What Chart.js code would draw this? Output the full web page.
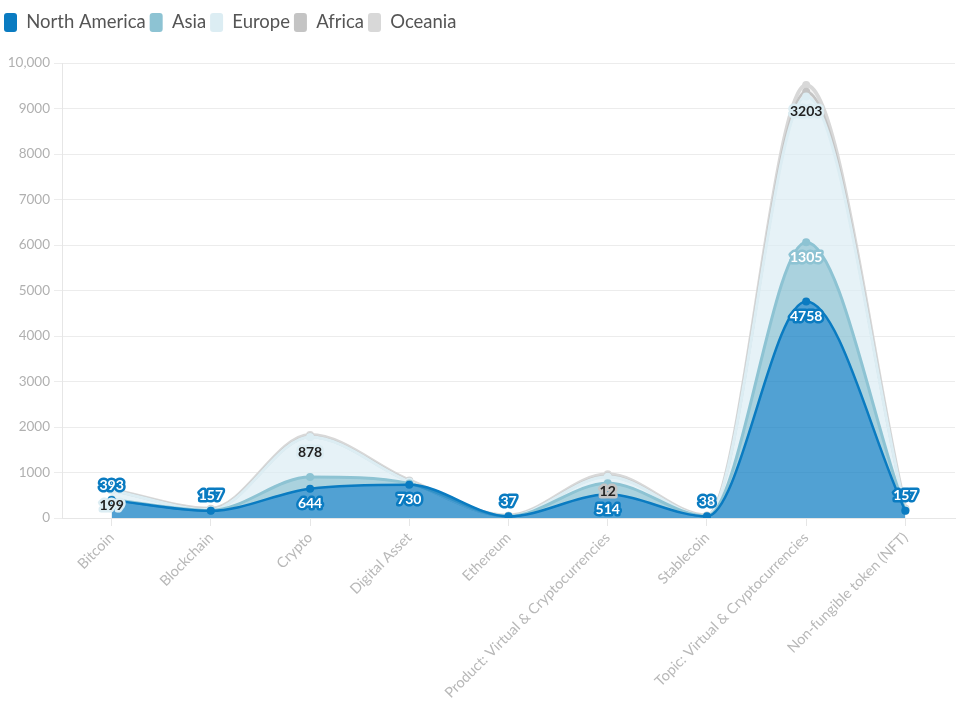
<!DOCTYPE html>
<html>
<head>
<meta charset="utf-8">
<script src="https://cdn.jsdelivr.net/npm/chart.js@4"></script>
<style>
	html, body { margin: 0; padding: 0; background: #fff; }
	#wrap { width: 959px; height: 702px; }
</style>
</head>
<body>
<div id="wrap"><canvas id="chart"></canvas></div>
<script>
const categories = [
	"Bitcoin",
	"Blockchain",
	"Crypto",
	"Digital Asset",
	"Ethereum",
	"Product: Virtual & Cryptocurrencies",
	"Stablecoin",
	"Topic: Virtual & Cryptocurrencies",
	"Non-fungible token (NFT)",
];

const northAmerica = [393, 157, 644, 730, 37, 514, 38, 4758, 157];
const asia = [15, 10, 256, 30, 3, 250, 3, 1305, 10];
const europe = [199, 15, 878, 40, 5, 144, 5, 3203, 20];
const africa = [5, 5, 10, 5, 2, 12, 2, 100, 5];
const oceania = [10, 15, 35, 20, 5, 40, 5, 150, 15];

const yTicks = [0, 1000, 2000, 3000, 4000, 5000, 6000, 7000, 8000, 9000, 10000];

// which values carry a visible label (category indexes), per series
const labelledNorthAmerica = [0, 1, 2, 3, 4, 5, 6, 7, 8];
const labelledAsia = [7];
const labelledEurope = [0, 2, 7];
const labelledAfrica = [5];
const labelledOceania = [];

const series = [
	{ label: "North America", data: northAmerica, line: "#0a7bc1", fill: "rgba(10, 123, 193, 0.71)", labelled: labelledNorthAmerica, text: "#fff", width: 2.5 },
	{ label: "Asia", data: asia, line: "#8dc3d3", fill: "rgba(141, 195, 211, 0.75)", labelled: labelledAsia, text: "#fff", width: 3 },
	{ label: "Europe", data: europe, line: "#dcedf3", fill: "rgba(220, 237, 243, 0.7)", labelled: labelledEurope, text: "#222", width: 3 },
	{ label: "Africa", data: africa, line: "#c4c4c4", fill: "rgba(196, 196, 196, 0.3)", labelled: labelledAfrica, text: "#222", width: 3 },
	{ label: "Oceania", data: oceania, line: "#d8d8d8", fill: "rgba(216, 216, 216, 0.3)", labelled: labelledOceania, text: "#222", width: 4 },
];

const valueLabels = {
	id: "valueLabels",
	afterDatasetsDraw(chart) {
		const ctx = chart.ctx;
		const bottom = chart.chartArea.bottom;
		ctx.save();
		ctx.font = "bold 14px Lato";
		ctx.textAlign = "center";
		ctx.textBaseline = "middle";
		ctx.lineJoin = "round";
		series.forEach((s, i) => {
			const meta = chart.getDatasetMeta(i);
			s.labelled.forEach((j) => {
				const pt = meta.data[j];
				let y = pt.y + 15;
				if (y + 8 > bottom) y = pt.y - 15;
				const text = String(s.data[j]);
				ctx.lineWidth = 5;
				ctx.strokeStyle = s.line;
				ctx.strokeText(text, pt.x, y);
				ctx.fillStyle = s.text;
				ctx.fillText(text, pt.x, y);
			});
		});
		ctx.restore();
	},
};

// extra room under the legend
const legendGap = {
	id: "legendGap",
	afterInit(chart) {
		const fit = chart.legend.fit;
		chart.legend.fit = function () {
			fit.bind(chart.legend)();
			this.height += 21;
		};
	},
};

const data = {
	labels: categories,
	datasets: series.map((s, i) => ({
		label: s.label,
		data: s.data,
		borderColor: s.line,
		backgroundColor: s.fill,
		borderWidth: s.width,
		fill: i === 0 ? "origin" : "-1",
		cubicInterpolationMode: "monotone",
		pointRadius: 4,
		pointBackgroundColor: s.line,
		pointBorderWidth: 0,
		pointHoverRadius: 4,
	})),
};

const options = {
	responsive: true,
	maintainAspectRatio: false,
	animation: false,
	layout: {
		padding: { top: 9, right: 0, left: 0, bottom: 0 },
	},
	plugins: {
		legend: {
			display: true,
			position: "top",
			align: "start",
			labels: {
				padding: 4,
				boxWidth: 13,
				boxHeight: 19,
				useBorderRadius: true,
				borderRadius: 3,
				color: "#555",
				font: { family: "Lato", size: 18.5 },
				generateLabels: (chart) =>
					chart.data.datasets.map((ds, i) => ({
						text: ds.label,
						fillStyle: [ "#0a7bc1", "#8dc3d3", "#dcedf3", "#c4c4c4", "#d8d8d8" ][i],
						strokeStyle: "rgba(0,0,0,0)",
						lineWidth: 0,
						borderRadius: 3,
						datasetIndex: i,
						fontColor: "#555",
					})),
			},
		},
		tooltip: { enabled: false },
	},
	scales: {
		x: {
			offset: true,
			grid: {
				drawOnChartArea: false,
				drawTicks: true,
				tickLength: 8,
				color: "#e6e6e6",
			},
			border: { color: "#e6e6e6" },
			ticks: {
				minRotation: 45,
				maxRotation: 45,
				autoSkip: false,
				color: "#b8b8b8",
				font: { family: "Lato", size: 14.5 },
			},
			afterFit: (scale) => {
				scale.height = 184;
			},
		},
		y: {
			stacked: true,
			min: 0,
			max: 10000,
			afterBuildTicks: (scale) => {
				scale.ticks = yTicks.map((v) => ({ value: v }));
			},
			grid: {
				color: "#ececec",
				tickLength: 8,
			},
			border: { color: "#e6e6e6" },
			ticks: {
				color: "#b0b0b0",
				padding: 4,
				font: { family: "Lato", size: 13.5 },
				callback: (v) => (v === 10000 ? "10,000" : String(v)),
			},
			afterFit: (scale) => {
				scale.width = 62;
			},
		},
	},
};

new Chart(document.querySelector("#chart"), {
	type: "line",
	data,
	options,
	plugins: [valueLabels, legendGap],
});
</script>
</body>
</html>
